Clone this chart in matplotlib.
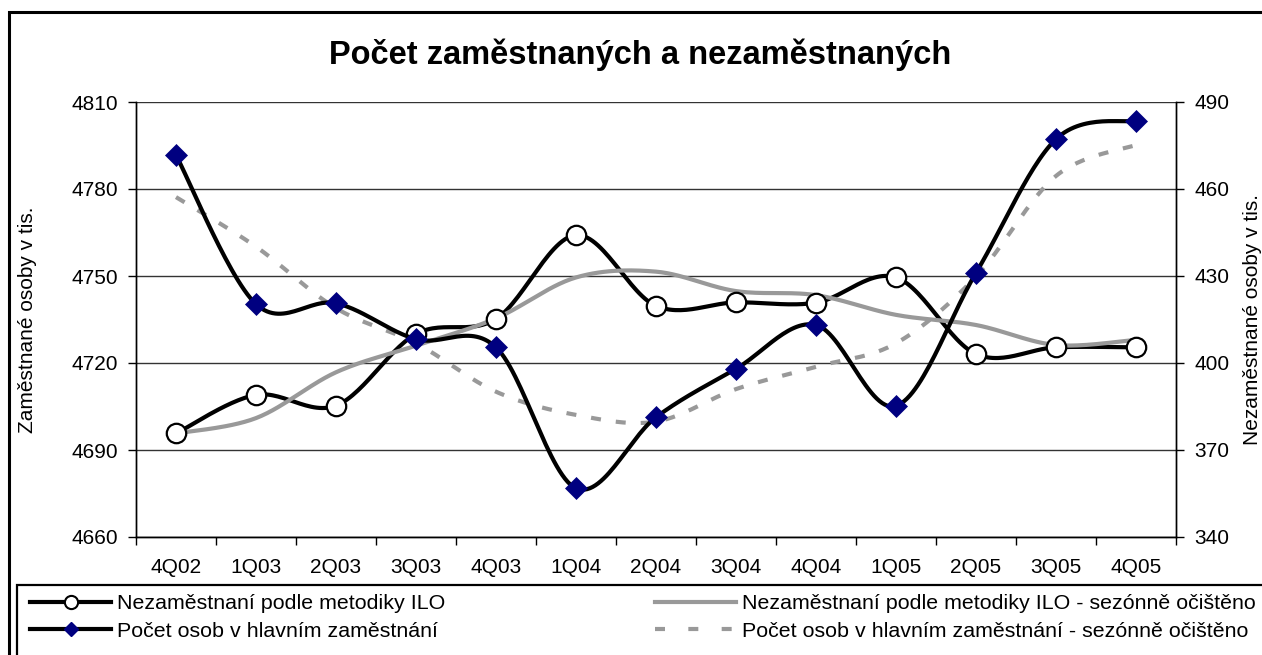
#!/usr/bin/env python3
# Počet zaměstnaných a nezaměstnaných - Excel style smoothed lines, two y axes

import numpy as np
import matplotlib
matplotlib.use("Agg")
import matplotlib.pyplot as plt
from matplotlib.lines import Line2D
from matplotlib.patches import Rectangle

plt.rcParams['font.family'] = ['Liberation Sans', 'DejaVu Sans']

quarters = ["4Q02", "1Q03", "2Q03", "3Q03", "4Q03", "1Q04", "2Q04",
            "3Q04", "4Q04", "1Q05", "2Q05", "3Q05", "4Q05"]

# thousands of persons
employed = [4791.7, 4740.3, 4740.6, 4728.2, 4725.4, 4676.8, 4701.3,
            4718.0, 4733.1, 4705.2, 4751.1, 4797.2, 4803.6]
employed_sa = [4777.2, 4760.1, 4738.9, 4726.8, 4710.1, 4702.1, 4699.8,
               4711.0, 4718.7, 4726.8, 4749.8, 4784.5, 4795.2]
unemployed = [375.7, 389.0, 385.3, 410.0, 415.2, 444.1, 419.7,
              420.9, 420.8, 429.5, 403.1, 405.4, 405.4]
unemployed_sa = [375.7, 381.0, 396.8, 406.0, 415.4, 429.5, 431.5,
                 424.8, 423.4, 416.6, 413.1, 406.2, 408.0]

left_ticks = [4660, 4690, 4720, 4750, 4780, 4810]
right_ticks = [340, 370, 400, 430, 460, 490]

GREY = "#999999"
NAVY = "#000080"


def smooth(x, y, n=30):
    # Catmull-Rom like bezier smoothing, the way Excel does "smoothed line"
    p = np.column_stack([x, y]).astype(float)
    pts = []
    for i in range(len(p) - 1):
        p0 = p[i - 1] if i > 0 else p[i]
        p3 = p[i + 2] if i + 2 < len(p) else p[i + 1]
        c1 = p[i] + (p[i + 1] - p0) / 6.0
        c2 = p[i + 1] - (p3 - p[i]) / 6.0
        t = np.linspace(0, 1, n)[:, None]
        seg = ((1 - t) ** 3 * p[i] + 3 * (1 - t) ** 2 * t * c1
               + 3 * (1 - t) * t ** 2 * c2 + t ** 3 * p[i + 1])
        pts.append(seg if i == 0 else seg[1:])
    pts = np.vstack(pts)
    return pts[:, 0], pts[:, 1]


W, H = 1262, 655
fig = plt.figure(figsize=(W / 100, H / 100), dpi=100)
ax1 = fig.add_axes([136 / W, (H - 537) / H, 1040 / W, 435 / H])
ax2 = ax1.twinx()
# employed series (left axis) drawn over the unemployed ones
ax1.set_zorder(ax2.get_zorder() + 1)
ax1.patch.set_visible(False)

x = np.arange(len(quarters))

# right axis: unemployed
sx, sy = smooth(x, unemployed)
ax2.plot(sx, sy, color="black", lw=3, solid_capstyle="round", zorder=3)
sx, sy = smooth(x, unemployed_sa)
ax2.plot(sx, sy, color=GREY, lw=3, solid_capstyle="round", zorder=4)
ax2.plot(x, unemployed, ls="none", marker="o", ms=14, mfc="white",
         mec="black", mew=1.6, zorder=5)

# left axis: employed
sx, sy = smooth(x, employed_sa)
ax1.plot(sx, sy, color=GREY, lw=3, dashes=(2.4, 3.6), zorder=3)
sx, sy = smooth(x, employed)
ax1.plot(sx, sy, color="black", lw=3, solid_capstyle="round", zorder=4)
ax1.plot(x, employed, ls="none", marker="D", ms=11.5, mfc=NAVY,
         mec=NAVY, mew=0.5, zorder=5)

for ax in (ax1, ax2):
    ax.set_xlim(-0.5, len(quarters) - 0.5)
    ax.set_xticks(np.arange(-0.5, len(quarters), 1))
    ax.set_xticklabels([])
    ax.set_xticks(x, minor=True)
    ax.tick_params(axis="x", which="major", length=6, width=1, direction="out")
    ax.tick_params(axis="x", which="minor", length=0, pad=15)
    for s in ax.spines.values():
        s.set_linewidth(1)
    ax.spines["top"].set_visible(False)

ax1.set_xticklabels(quarters, minor=True, fontsize=15)

ax1.set_ylim(4660, 4810)
ax1.set_yticks(left_ticks)
ax1.tick_params(axis="y", length=6, width=1, pad=7, labelsize=15)
ax2.set_ylim(340, 490)
ax2.set_yticks(right_ticks)
ax2.tick_params(axis="y", length=6, width=1, pad=7, labelsize=15)
ax2.grid(axis="y", color="#333333", lw=1)
ax2.set_axisbelow(True)

ax1.set_ylabel("Zaměstnané osoby v tis.", fontsize=15)
ax1.yaxis.set_label_coords((37 - 136) / 1040, 0.5)
ax2.set_ylabel("Nezaměstnané osoby v tis.", fontsize=15)
ax2.yaxis.set_label_coords((1243 - 136) / 1040, 0.5)

fig.text(640 / W, 1 - 55 / H, "Počet zaměstnaných a nezaměstnaných",
         ha="center", va="center", fontsize=23.5, fontweight="bold")

# frames: outer chart border and the legend box (both run off the image)
fig.patches.append(Rectangle((9 / W, -0.1), 1.2, 1 - 12 / H + 0.1,
                             transform=fig.transFigure, fill=False,
                             ec="black", lw=2.2))
fig.patches.append(Rectangle((17 / W, -0.1), 1.2, (H - 585) / H + 0.1,
                             transform=fig.transFigure, fill=False,
                             ec="black", lw=1.6))

h_unemp = Line2D([], [], color="black", lw=3, marker="o", ms=9.5,
                 mfc="white", mec="black", mew=1.5)
h_emp = Line2D([], [], color="black", lw=3, marker="D", ms=7.5,
               mfc=NAVY, mec=NAVY)
h_unemp_sa = Line2D([], [], color=GREY, lw=3)
h_emp_sa = Line2D([], [], color=GREY, lw=3, dashes=(2.4, 5.6))

leg_kw = dict(loc="upper left", frameon=False, fontsize=15.4, handlelength=3.8,
              handletextpad=0.25, labelspacing=0.4, borderpad=0,
              borderaxespad=0)
fig.legend([h_unemp, h_emp],
           ["Nezaměstnaní podle metodiky ILO",
            "Počet osob v hlavním zaměstnání"],
           bbox_to_anchor=(30 / W, 1 - 594 / H), **leg_kw)
fig.legend([h_unemp_sa, h_emp_sa],
           ["Nezaměstnaní podle metodiky ILO - sezónně očištěno",
            "Počet osob v hlavním zaměstnání - sezónně očištěno"],
           bbox_to_anchor=(655 / W, 1 - 594 / H), **leg_kw)

fig.savefig("out.png", dpi=100)
